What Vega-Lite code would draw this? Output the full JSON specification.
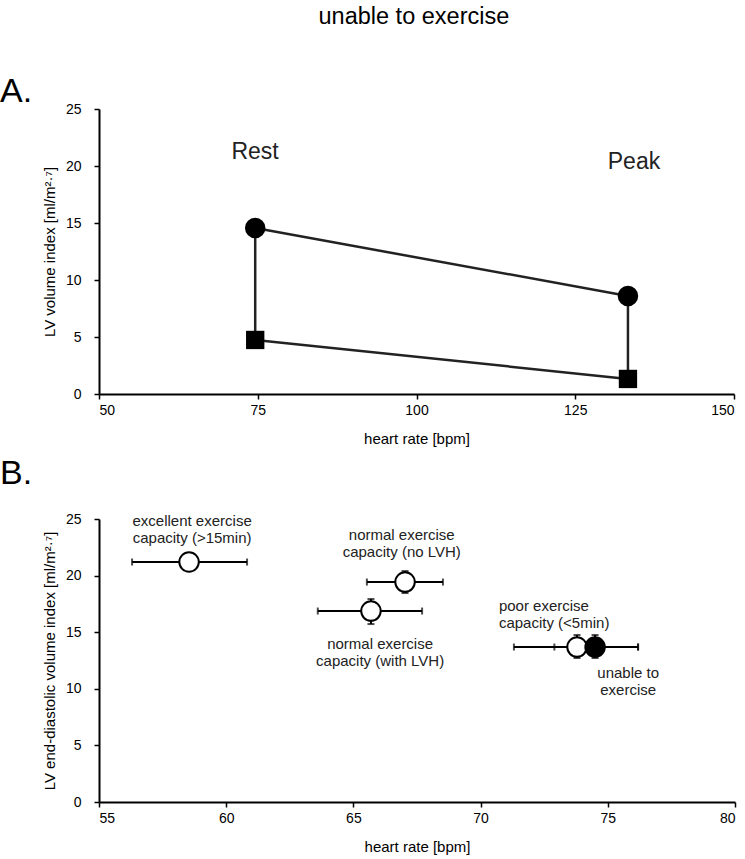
{
  "$schema": "https://vega.github.io/schema/vega-lite/v6.json",
  "background": "white",
  "padding": {"left": 0, "top": 4, "right": 5, "bottom": 2},
  "title": {"text": "unable to exercise", "fontSize": 23.5, "font": "Liberation Sans", "fontWeight": "normal", "color": "black", "anchor": "middle", "dx": 46, "offset": 47},
  "config": {
    "font": "Liberation Sans",
    "view": {"stroke": null},
    "axis": {"grid": false, "domainColor": "black", "domainWidth": 2, "tickColor": "black", "tickWidth": 1.5, "tickSize": 5, "labelFont": "Liberation Sans", "labelFontSize": 14, "labelColor": "black", "titleFont": "Liberation Sans", "titleFontSize": 15, "titleFontWeight": "normal", "titleColor": "black"}
  },
  "spacing": 11,
  "vconcat": [
    {
      "width": 635,
      "height": 285,
      "title": {"text": "A.", "anchor": "start", "frame": "group", "dx": -99, "fontSize": 34, "fontWeight": "normal", "color": "black", "offset": -7},
      "layer": [
        {
          "data": {"values": [
            {"seg": "edv", "o": 1, "hr": 74.6, "v": 14.56},
            {"seg": "edv", "o": 2, "hr": 133.3, "v": 8.6},
            {"seg": "esv", "o": 1, "hr": 74.6, "v": 4.74},
            {"seg": "esv", "o": 2, "hr": 133.3, "v": 1.32},
            {"seg": "rest", "o": 1, "hr": 74.6, "v": 14.56},
            {"seg": "rest", "o": 2, "hr": 74.6, "v": 4.74},
            {"seg": "peak", "o": 1, "hr": 133.3, "v": 8.6},
            {"seg": "peak", "o": 2, "hr": 133.3, "v": 1.32}
          ]},
          "mark": {"type": "line", "color": "#222222", "strokeWidth": 2.5},
          "encoding": {
            "x": {"field": "hr", "type": "quantitative", "scale": {"domain": [50, 150], "nice": false, "padding": 0}, "axis": {"values": [50, 75, 100, 125, 150], "title": "heart rate [bpm]", "labelPadding": 4, "titlePadding": 14}},
            "y": {"field": "v", "type": "quantitative", "scale": {"domain": [0, 25], "nice": false, "padding": 0}, "axis": {"values": [0, 5, 10, 15, 20, 25], "title": "LV volume index  [ml/m²·⁷]", "labelPadding": 13, "titlePadding": 8}},
            "detail": {"field": "seg"},
            "order": {"field": "o"}
          }
        },
        {
          "data": {"values": [
            {"kind": "EDV", "hr": 74.6, "v": 14.56},
            {"kind": "ESV", "hr": 74.6, "v": 4.74},
            {"kind": "EDV", "hr": 133.3, "v": 8.6},
            {"kind": "ESV", "hr": 133.3, "v": 1.32}
          ]},
          "mark": {"type": "point", "filled": true, "color": "black", "opacity": 1},
          "encoding": {
            "x": {"field": "hr", "type": "quantitative"},
            "y": {"field": "v", "type": "quantitative"},
            "shape": {"field": "kind", "type": "nominal", "scale": {"domain": ["EDV", "ESV"], "range": ["circle", "square"]}, "legend": null},
            "size": {"field": "kind", "type": "nominal", "scale": {"domain": ["EDV", "ESV"], "range": [420, 336]}, "legend": null}
          }
        },
        {
          "data": {"values": [
            {"label": "Rest", "hr": 74.57, "v": 21.2},
            {"label": "Peak", "hr": 134.25, "v": 20.35}
          ]},
          "mark": {"type": "text", "fontSize": 23, "color": "#222222", "baseline": "middle", "align": "center"},
          "encoding": {
            "x": {"field": "hr", "type": "quantitative"},
            "y": {"field": "v", "type": "quantitative"},
            "text": {"field": "label"}
          }
        }
      ]
    },
    {
      "width": 636,
      "height": 283,
      "title": {"text": "B.", "anchor": "start", "frame": "group", "dx": -99, "fontSize": 34, "fontWeight": "normal", "color": "black", "offset": 21},
      "layer": [
        {
          "data": {"name": "grp", "values": [
            {"g": "excellent", "fill": "open", "hr": 58.54, "v": 21.2, "hrLo": 56.3, "hrHi": 60.82, "vLo": null, "vHi": null},
            {"g": "noLVH", "fill": "open", "hr": 67.03, "v": 19.43, "hrLo": 65.53, "hrHi": 68.52, "vLo": 18.46, "vHi": 20.4},
            {"g": "withLVH", "fill": "open", "hr": 65.69, "v": 16.87, "hrLo": 63.6, "hrHi": 67.7, "vLo": 15.72, "vHi": 17.93},
            {"g": "poor", "fill": "open", "hr": 73.79, "v": 13.69, "hrLo": 71.31, "hrHi": 76.19, "vLo": 12.72, "vHi": 14.75},
            {"g": "unable", "fill": "closed", "hr": 74.5, "v": 13.69, "hrLo": 72.9, "hrHi": 76.19, "vLo": 12.72, "vHi": 14.75}
          ]},
          "mark": {"type": "rule", "color": "black", "strokeWidth": 2},
          "encoding": {
            "x": {"field": "hrLo", "type": "quantitative", "scale": {"domain": [55, 80], "nice": false, "padding": 0}, "axis": {"values": [55, 60, 65, 70, 75, 80], "title": "heart rate [bpm]", "labelPadding": 4, "titlePadding": 14}},
            "x2": {"field": "hrHi"},
            "y": {"field": "v", "type": "quantitative", "scale": {"domain": [0, 25], "nice": false, "padding": 0}, "axis": {"values": [0, 5, 10, 15, 20, 25], "title": "LV end-diastolic volume index  [ml/m²·⁷]", "labelPadding": 13, "titlePadding": 8}}
          }
        },
        {
          "data": {"name": "grp"},
          "mark": {"type": "tick", "color": "black", "orient": "vertical", "size": 7, "thickness": 2},
          "encoding": {
            "x": {"field": "hrLo", "type": "quantitative"},
            "y": {"field": "v", "type": "quantitative"}
          }
        },
        {
          "data": {"name": "grp"},
          "mark": {"type": "tick", "color": "black", "orient": "vertical", "size": 7, "thickness": 2},
          "encoding": {
            "x": {"field": "hrHi", "type": "quantitative"},
            "y": {"field": "v", "type": "quantitative"}
          }
        },
        {
          "data": {"name": "grp"},
          "transform": [{"filter": {"field": "vLo", "valid": true}}],
          "mark": {"type": "rule", "color": "black", "strokeWidth": 2},
          "encoding": {
            "x": {"field": "hr", "type": "quantitative"},
            "y": {"field": "vLo", "type": "quantitative"},
            "y2": {"field": "vHi"}
          }
        },
        {
          "data": {"name": "grp"},
          "transform": [{"filter": {"field": "vLo", "valid": true}}],
          "mark": {"type": "tick", "color": "black", "orient": "horizontal", "size": 7, "thickness": 2},
          "encoding": {
            "x": {"field": "hr", "type": "quantitative"},
            "y": {"field": "vLo", "type": "quantitative"}
          }
        },
        {
          "data": {"name": "grp"},
          "transform": [{"filter": {"field": "vHi", "valid": true}}],
          "mark": {"type": "tick", "color": "black", "orient": "horizontal", "size": 7, "thickness": 2},
          "encoding": {
            "x": {"field": "hr", "type": "quantitative"},
            "y": {"field": "vHi", "type": "quantitative"}
          }
        },
        {
          "data": {"name": "grp"},
          "mark": {"type": "point", "filled": true, "stroke": "black", "strokeWidth": 2, "opacity": 1, "size": 380, "shape": "circle"},
          "encoding": {
            "x": {"field": "hr", "type": "quantitative"},
            "y": {"field": "v", "type": "quantitative"},
            "fill": {"field": "fill", "type": "nominal", "scale": {"domain": ["open", "closed"], "range": ["white", "black"]}, "legend": null}
          }
        },
        {
          "data": {"values": [
            {"label": "excellent exercise\ncapacity (>15min)", "hr": 58.66, "v": 24.82},
            {"label": "normal exercise\ncapacity (no LVH)", "hr": 66.9, "v": 23.59},
            {"label": "normal exercise\ncapacity (with LVH)", "hr": 66.05, "v": 13.96},
            {"label": "unable to\nexercise", "hr": 75.8, "v": 11.4}
          ]},
          "mark": {"type": "text", "fontSize": 15, "lineBreak": "\n", "lineHeight": 17, "color": "#222222", "baseline": "middle", "align": "center"},
          "encoding": {
            "x": {"field": "hr", "type": "quantitative"},
            "y": {"field": "v", "type": "quantitative"},
            "text": {"field": "label"}
          }
        },
        {
          "data": {"values": [
            {"label": "poor exercise\ncapacity (<5min)", "hr": 70.72, "v": 17.31}
          ]},
          "mark": {"type": "text", "fontSize": 15, "lineBreak": "\n", "lineHeight": 17, "color": "#222222", "baseline": "middle", "align": "left"},
          "encoding": {
            "x": {"field": "hr", "type": "quantitative"},
            "y": {"field": "v", "type": "quantitative"},
            "text": {"field": "label"}
          }
        }
      ]
    }
  ]
}
